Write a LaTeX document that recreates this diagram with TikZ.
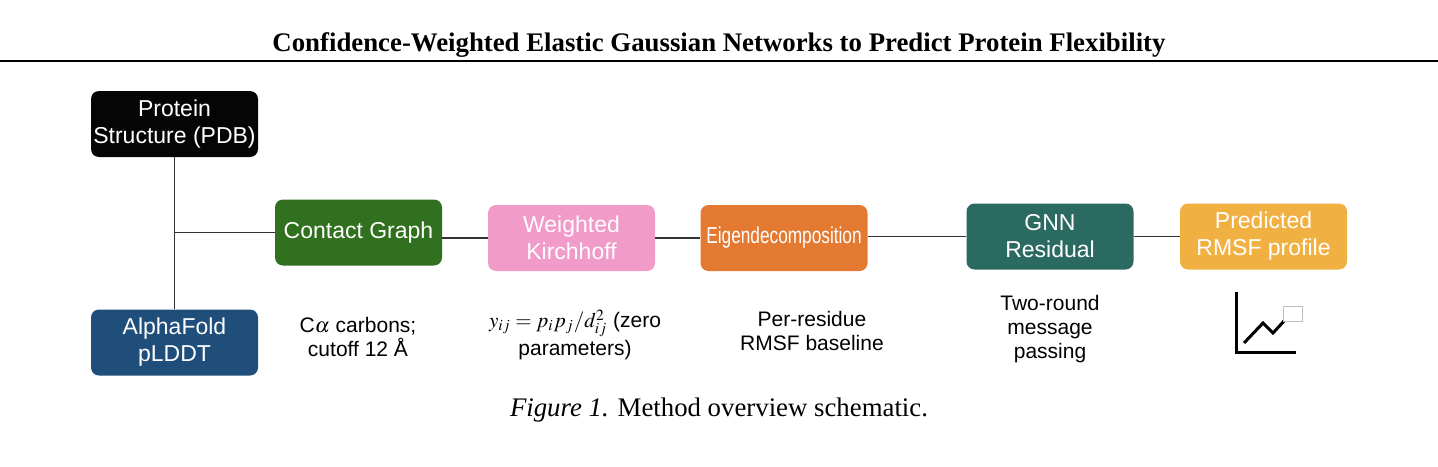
\documentclass[tikz,border=0pt]{standalone}
\usepackage{mathptmx}
\usepackage{fontspec}
\setmainfont{Liberation Serif}
\setsansfont{Liberation Sans}
\usepackage{xcolor}
\usepackage{tikz}
\usetikzlibrary{positioning}
\definecolor{pdbblack}{HTML}{050505}
\definecolor{plddtblue}{HTML}{1F4E7A}
\definecolor{graphgreen}{HTML}{30701F}
\definecolor{kirchpink}{HTML}{F09BC8}
\definecolor{eigenorange}{HTML}{E47A31}
\definecolor{gnnteal}{HTML}{2B6A61}
\definecolor{rmsfyellow}{HTML}{F1B142}
\definecolor{linkgray}{HTML}{333333}
\tikzset{
	stage/.style={
			rectangle, rounded corners=4pt, draw=none,
			minimum width=83.5pt, minimum height=33pt, inner sep=1pt,
			align=center, text=white, font=\sffamily\fontsize{11.5}{13.5}\selectfont
		},
	note/.style={align=center, font=\sffamily\fontsize{10.5}{12}\selectfont},
	link/.style={draw=linkgray, line width=0.55pt}
}

\begin{document}
\begin{tikzpicture}[x=0.5pt,y=-0.5pt]

  \useasboundingbox (0,0) rectangle (1438,466);
  \node (title) at (719,45) {\bfseries\fontsize{13.4}{15}\selectfont Confidence-Weighted Elastic Gaussian Networks to Predict Protein Flexibility};
  \draw[line width=1.1pt] (0,61) -- (1438,61);

  \node[stage, fill=pdbblack] (pdb) at (174.5,124) {Protein\\Structure (PDB)};
  \node[stage, fill=plddtblue] (plddt) at (174.5,342.5) {AlphaFold\\pLDDT};
  \node[stage, fill=graphgreen] (contact) at (358.5,232.5) {Contact Graph};
  \node[stage, fill=kirchpink] (kirch) at (571.5,238) {Weighted\\Kirchhoff};
  \node[stage, fill=eigenorange] (eigen) at (784,238) {\scalebox{0.75}[1]{Eigendecomposition}};
  \node[stage, fill=gnnteal] (gnn) at (1050,236.5) {GNN\\Residual};
  \node[stage, fill=rmsfyellow] (pred) at (1263.5,236.5) {Predicted\\RMSF profile};
  \coordinate (fork) at (174.5,232.5);

\path[link] (pdb.south) -- (plddt.north);
\path[link] (fork) -- (contact.west);
\path[link] (kirch.west -| contact.east) -- (kirch.west);
\path[link] (kirch.east) -- (eigen.west);
\path[link] (gnn.west -| eigen.east) -- (gnn.west);
\path[link] (gnn.east) -- (pred.west);

  \node[note] (canote) at (358,337) {C$\alpha$ carbons;\\cutoff 12 Å};
  \node[note, font=\sffamily\fontsize{10.5}{14}\selectfont] (kirchnote) at (575,335) {$y_{ij} = p_i p_j / d_{ij}^2$ (zero\\parameters)};
  \node[note] (eigennote) at (812,331) {Per-residue\\RMSF baseline};
  \node[note] (gnnnote) at (1050,329) {Two-round\\message\\passing};

    % small profile icon
    \draw[line width=1.5pt] (1236,292) -- (1236,352) -- (1296,352);
    \draw[line width=1.5pt] (1244,343) -- (1263,323) -- (1273,333) -- (1284,321);
    \draw[draw=black!25, line width=0.5pt] (1283,306) rectangle (1302,321);

  \node (caption) at (719,410) {\fontsize{13.4}{15}\selectfont\textit{Figure 1.} Method overview schematic.};
    \end{tikzpicture}
\end{document}
